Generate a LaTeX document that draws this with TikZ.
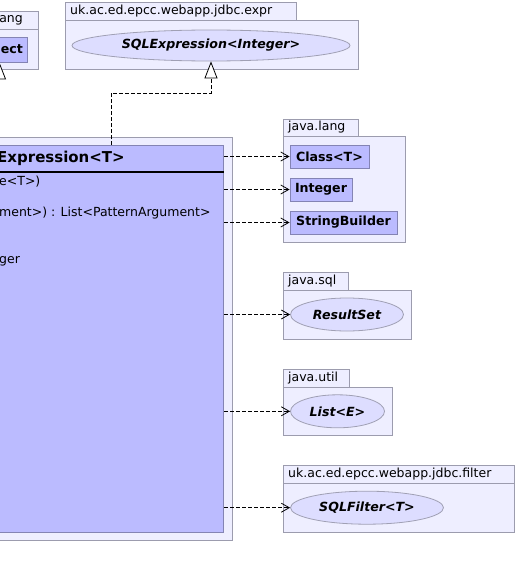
\documentclass[tikz,border=0pt]{standalone}
\usepackage{fontspec}
\setmainfont{DejaVu Sans}
\usetikzlibrary{shapes.geometric,arrows.meta}
\definecolor{pkgfill}{HTML}{EEEEFF}
\definecolor{pkgdraw}{HTML}{9C9CAE}
\definecolor{clsfill}{HTML}{BBBBFF}
\definecolor{clsdraw}{HTML}{8484B4}
\definecolor{ellfill}{HTML}{DDDDFF}
\definecolor{elldraw}{HTML}{A0A0B4}
\tikzset{
  txt/.style={font=\fontsize{12.5}{14}\selectfont, inner sep=0pt},
  pkg/.style={draw=pkgdraw, fill=pkgfill, line width=0.9pt},
  pkglabel/.style={txt, anchor=west},
  clsbox/.style={draw=clsdraw, fill=clsfill, line width=0.9pt, inner sep=0pt, font=\fontsize{12.6}{14}\selectfont\bfseries},
  iface/.style={ellipse, draw=elldraw, fill=ellfill, line width=0.8pt, inner sep=0pt, font=\fontsize{12.6}{14}\selectfont\bfseries\itshape},
  dep/.style={dashed, dash pattern=on 4pt off 2pt, line width=0.8pt, -{Straight Barb[length=8pt,width=9pt,line width=0.8pt]}},
  real/.style={dashed, dash pattern=on 4pt off 2pt, line width=0.8pt, -{Triangle[open,length=17pt,width=13pt,line width=0.8pt,fill=white]}},
}
\begin{document}
\begin{tikzpicture}[x=1pt,y=-1pt]
\useasboundingbox (0,0) rectangle (517,578);
% top-left package
\draw[pkg] (-60,11) rectangle (38,29);
\draw[pkg] (-60,29) rectangle (38,69);
\node[pkglabel, anchor=east] (langA) at (23,20) {ang};
\node[clsbox, minimum width=87pt, minimum height=25pt] (obj) at (-16.5,49.5) {};
\node[txt, font=\fontsize{12.6}{14}\selectfont\bfseries, anchor=east] (objtxt) at (23,49.5) {ect};
% expr package
\draw[pkg] (65,2) rectangle (296,20);
\draw[pkg] (65,20) rectangle (358,69);
\node[pkglabel] (exprlbl) at (70,11.5) {uk.ac.ed.epcc.webapp.jdbc.expr};
\node[iface, minimum width=278pt, minimum height=31pt] (sqlexpr) at (211,45.5) {SQLExpression<Integer>};
% main package
\draw[pkg] (-60,137) rectangle (232.5,540);
\node[clsbox, anchor=north east, minimum width=300pt, minimum height=387pt] (main) at (224,145) {};
\draw[line width=2pt] (main.west |- 0,172) -- (main.east |- 0,172);
\node[txt, font=\fontsize{15}{18}\selectfont\bfseries, anchor=east] (hdr) at (125,158.5) {Expression<T>};
\node[txt, anchor=west] (m1) at (-1,181.5) {e<T>)};
\node[txt, anchor=west] (m2) at (-1,213) {ment>) : List<PatternArgument>};
\node[txt, anchor=west] (m3) at (-1,261.5) {ger};
% java.lang
\draw[pkg] (283,119) rectangle (358,136);
\draw[pkg] (283,136) rectangle (405.5,242);
\node[pkglabel] (langlbl) at (288,127.5) {java.lang};
\node[clsbox, minimum width=79pt, minimum height=23pt] (classT) at (329.5,156.5) {Class<T>};
\node[clsbox, minimum width=62pt, minimum height=23pt] (integer) at (321,189.5) {Integer};
\node[clsbox, minimum width=107pt, minimum height=23pt] (sb) at (343.5,222.5) {StringBuilder};
% java.sql
\draw[pkg] (283,272) rectangle (348,290);
\draw[pkg] (283,290) rectangle (411.5,339);
\node[pkglabel] (sqllbl) at (288,281) {java.sql};
\node[iface, minimum width=113pt, minimum height=33pt] (rs) at (347,314.5) {ResultSet};
% java.util
\draw[pkg] (283,369) rectangle (349,387);
\draw[pkg] (283,387) rectangle (392,435);
\node[pkglabel] (utillbl) at (288,378) {java.util};
\node[iface, minimum width=94pt, minimum height=33pt] (list) at (337.5,411.3) {List<E>};
% filter
\draw[pkg] (283,465.5) rectangle (514.5,483);
\draw[pkg] (283,483) rectangle (514.5,532);
\node[pkglabel] (filtlbl) at (288,474.5) {uk.ac.ed.epcc.webapp.jdbc.filter};
\node[iface, minimum width=153pt, minimum height=33pt] (filt) at (367,507.7) {SQLFilter<T>};
% connectors
\draw[dep] (main.east |- classT.west) -- (classT.west);
\draw[dep] (main.east |- integer.west) -- (integer.west);
\draw[dep] (main.east |- sb.west) -- (sb.west);
\draw[dep] (main.east |- rs.west) -- (rs.west);
\draw[dep] (main.east |- list.west) -- (list.west);
\draw[dep] (main.east |- filt.west) -- (filt.west);
\coordinate (bend) at (111,93);
\draw[real] (bend |- main.north) -- (bend) -| (sqlexpr.south);
\coordinate (gtail) at (-0.5,100);
\draw[real, solid] (gtail) -- (gtail |- obj.south);
\end{tikzpicture}
\end{document}
